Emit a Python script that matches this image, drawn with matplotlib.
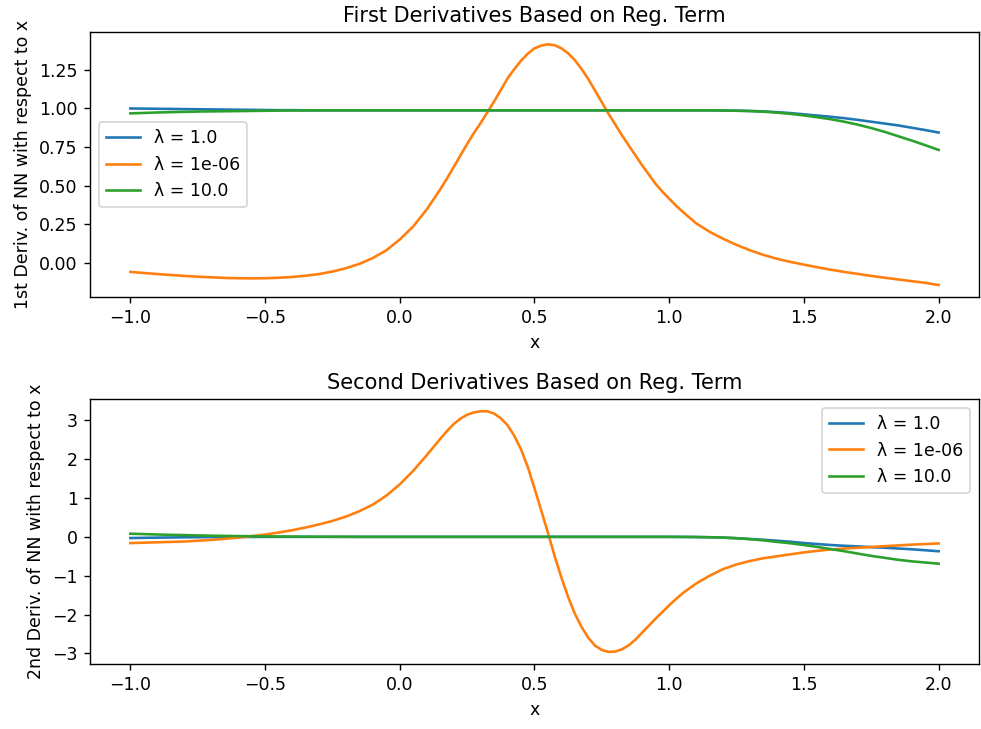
import matplotlib
matplotlib.use('Agg')
import matplotlib.pyplot as plt

# x grid the flat curves were read on
x = [-1.00, -0.95, -0.90, -0.85, -0.80, -0.75, -0.70, -0.65, -0.60, -0.55,
     -0.50, -0.45, -0.40, -0.35, -0.30, -0.25, -0.20, -0.15, -0.10, -0.05,
     0.00, 0.05, 0.10, 0.15, 0.20, 0.25, 0.30, 0.35, 0.40, 0.45,
     0.50, 0.55, 0.60, 0.65, 0.70, 0.75, 0.80, 0.85, 0.90, 0.95,
     1.00, 1.05, 1.10, 1.15, 1.20, 1.25, 1.30, 1.35, 1.40, 1.45,
     1.50, 1.55, 1.60, 1.65, 1.70, 1.75, 1.80, 1.85, 1.90, 1.95, 2.00]

# denser grid for the lambda = 1e-06 curves (sharp peaks)
x_or = [-1.00, -0.95, -0.90, -0.85, -0.80, -0.75, -0.70, -0.65, -0.60, -0.55,
        -0.50, -0.45, -0.40, -0.35, -0.30, -0.25, -0.20, -0.15, -0.10, -0.05,
        0.00, 0.05, 0.10,
        0.150, 0.175, 0.200, 0.225, 0.250, 0.275, 0.300, 0.325, 0.350, 0.375,
        0.400, 0.425, 0.450, 0.475, 0.500, 0.525, 0.550, 0.575, 0.600, 0.625,
        0.650, 0.675, 0.700, 0.725, 0.750, 0.775, 0.800, 0.825, 0.850, 0.875,
        0.900, 0.925, 0.950, 0.975, 1.000, 1.025, 1.050,
        1.10, 1.15, 1.20, 1.25, 1.30, 1.35, 1.40, 1.45,
        1.50, 1.55, 1.60, 1.65, 1.70, 1.75, 1.80, 1.85, 1.90, 1.95, 2.00]

labels = ['λ = 1.0', 'λ = 1e-06', 'λ = 10.0']

# first derivatives
d1_lam1 = [1.000, 0.999, 0.998, 0.997, 0.996, 0.995, 0.994, 0.993, 0.992, 0.991,
           0.990, 0.989, 0.989, 0.988, 0.988, 0.988, 0.988, 0.988, 0.988, 0.988,
           0.988, 0.988, 0.988, 0.988, 0.988, 0.988, 0.988, 0.988, 0.988, 0.988,
           0.988, 0.988, 0.988, 0.988, 0.988, 0.988, 0.988, 0.988, 0.988, 0.988,
           0.988, 0.988, 0.988, 0.988, 0.987, 0.986, 0.984, 0.981, 0.976, 0.970,
           0.962, 0.954, 0.946, 0.937, 0.926, 0.914, 0.902, 0.890, 0.875, 0.860, 0.844]
d1_lam1e6 = [-0.060, -0.067, -0.074, -0.080, -0.086, -0.091, -0.095, -0.099, -0.101, -0.102,
             -0.101, -0.098, -0.093, -0.085, -0.074, -0.058, -0.036, -0.008, 0.030, 0.080,
             0.150, 0.235, 0.345,
             0.475, 0.545, 0.620, 0.695, 0.770, 0.840, 0.905, 0.975, 1.045, 1.120,
             1.195, 1.255, 1.310, 1.355, 1.390, 1.408, 1.416, 1.410, 1.390, 1.358,
             1.313, 1.255, 1.190, 1.115, 1.040, 0.965, 0.895, 0.825, 0.760, 0.695,
             0.630, 0.570, 0.510, 0.460, 0.415, 0.370, 0.330,
             0.255, 0.200, 0.155, 0.115, 0.080, 0.050, 0.025, 0.005,
             -0.013, -0.030, -0.046, -0.060, -0.073, -0.086, -0.098, -0.109, -0.120, -0.131, -0.145]
d1_lam10 = [0.968, 0.971, 0.974, 0.976, 0.978, 0.980, 0.981, 0.982, 0.983, 0.984,
            0.985, 0.986, 0.987, 0.987, 0.988, 0.988, 0.988, 0.988, 0.988, 0.988,
            0.988, 0.988, 0.988, 0.988, 0.988, 0.988, 0.988, 0.988, 0.988, 0.988,
            0.988, 0.988, 0.988, 0.988, 0.988, 0.988, 0.988, 0.988, 0.988, 0.988,
            0.988, 0.988, 0.988, 0.988, 0.987, 0.985, 0.983, 0.979, 0.973, 0.965,
            0.955, 0.943, 0.930, 0.914, 0.895, 0.873, 0.848, 0.820, 0.792, 0.762, 0.731]

# second derivatives
d2_lam1 = [-0.03, -0.025, -0.02, -0.016, -0.012, -0.009, -0.006, -0.004, -0.003, -0.002,
           -0.001, 0.0, 0.0, 0.0, 0.0, 0.0, 0.0, 0.0, 0.0, 0.0,
           0.0, 0.0, 0.0, 0.0, 0.0, 0.0, 0.0, 0.0, 0.0, 0.0,
           0.0, 0.0, 0.0, 0.0, 0.0, 0.0, 0.0, 0.0, 0.0, 0.0,
           0.0, -0.002, -0.005, -0.01, -0.02, -0.035, -0.055, -0.075, -0.10, -0.125,
           -0.16, -0.185, -0.21, -0.23, -0.245, -0.265, -0.28, -0.30, -0.32, -0.345, -0.37]
d2_lam1e6 = [-0.16, -0.15, -0.14, -0.13, -0.12, -0.10, -0.08, -0.05, -0.02, 0.02,
             0.06, 0.11, 0.17, 0.24, 0.32, 0.41, 0.52, 0.66, 0.83, 1.06,
             1.35, 1.70, 2.10,
             2.52, 2.72, 2.90, 3.04, 3.14, 3.20, 3.23, 3.23, 3.17, 3.05,
             2.87, 2.60, 2.25, 1.80, 1.25, 0.68, 0.10, -0.50, -1.05, -1.55,
             -1.98, -2.32, -2.60, -2.80, -2.91, -2.96, -2.95, -2.89, -2.79, -2.64,
             -2.46, -2.28, -2.10, -1.93, -1.76, -1.60, -1.45,
             -1.20, -1.00, -0.83, -0.71, -0.62, -0.55, -0.50, -0.45,
             -0.40, -0.36, -0.325, -0.30, -0.28, -0.26, -0.24, -0.22, -0.20, -0.185, -0.17]
d2_lam10 = [0.08, 0.07, 0.06, 0.052, 0.045, 0.037, 0.03, 0.025, 0.02, 0.016,
            0.012, 0.009, 0.006, 0.004, 0.003, 0.002, 0.001, 0.0, 0.0, 0.0,
            0.0, 0.0, 0.0, 0.0, 0.0, 0.0, 0.0, 0.0, 0.0, 0.0,
            0.0, 0.0, 0.0, 0.0, 0.0, 0.0, 0.0, 0.0, 0.0, 0.0,
            0.0, -0.002, -0.005, -0.01, -0.02, -0.035, -0.06, -0.09, -0.13, -0.165,
            -0.21, -0.26, -0.315, -0.37, -0.43, -0.49, -0.54, -0.59, -0.63, -0.66, -0.69]

# rendered at 125 dpi so text and lines scale like the reference
fig, (ax1, ax2) = plt.subplots(2, 1, figsize=(981 / 125, 729 / 125), dpi=125)
fig.subplots_adjust(left=0.0917, right=0.998, top=0.9557, bottom=0.0892, hspace=0.386)

# first derivative panel
ax1.plot(x, d1_lam1, label=labels[0])
ax1.plot(x_or, d1_lam1e6, label=labels[1])
ax1.plot(x, d1_lam10, label=labels[2])
ax1.set_title("First Derivatives Based on Reg. Term")
ax1.set_xlabel("x")
ax1.set_ylabel("1st Deriv. of NN with respect to x")
ax1.legend(loc='center left')

# second derivative panel
ax2.plot(x, d2_lam1, label=labels[0])
ax2.plot(x_or, d2_lam1e6, label=labels[1])
ax2.plot(x, d2_lam10, label=labels[2])
ax2.set_title("Second Derivatives Based on Reg. Term")
ax2.set_xlabel("x")
ax2.set_ylabel("2nd Deriv. of NN with respect to x")
ax2.legend(loc='upper right')

fig.savefig('out.png', dpi=125)
